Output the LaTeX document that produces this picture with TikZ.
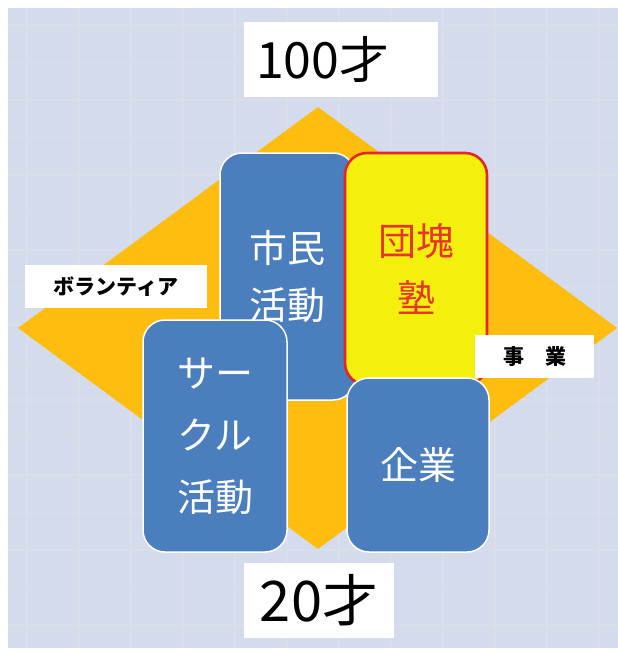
\documentclass[tikz,border=0pt]{standalone}
\usepackage{fontspec}
\setmainfont{Noto Sans CJK JP}
\definecolor{bgblue}{HTML}{D3DBEC}
\definecolor{gridline}{HTML}{D9DEE8}
\definecolor{diamondorange}{HTML}{FFBE0F}
\definecolor{boxblue}{HTML}{4B7EBD}
\definecolor{dankaiyellow}{HTML}{F3F00E}
\definecolor{dankaired}{HTML}{E4262A}
\definecolor{dankaitext}{HTML}{E8352A}

\begin{document}
\begin{tikzpicture}[x=1pt, y=-1pt,
  every box/.style={draw=white, line width=1.5pt, rounded corners=22pt,
    fill=boxblue, text=white, inner sep=0pt, align=center,
    font=\fontsize{38}{57}\selectfont},
  dankai box/.style={every box, draw=dankaired, line width=2.6pt,
    fill=dankaiyellow, text=dankaitext},
  age tag/.style={fill=white, inner sep=0pt, minimum height=75pt},
  side tag/.style={fill=white, inner sep=0pt, minimum height=43pt,
    font=\fontsize{21}{24}\selectfont\bfseries}]
\useasboundingbox (0,0) rectangle (618,653);
\fill[white] (0,0) rectangle (618,653);

% background with grid
\fill[bgblue] (8,8) rectangle (618,648);
\foreach \x in {27,79,...,600}
  \draw[gridline, line width=1.2pt] (\x,8) -- (\x,648);
\foreach \y in {25,62.5,...,640}
  \draw[gridline, line width=1.2pt] (8,\y) -- (618,\y);

% diamond
\fill[diamondorange] (318,107) -- (617,328) -- (318,549) -- (18,328) -- cycle;

% boxes
\node[every box, minimum width=135pt, minimum height=247pt] (shimin) at (287.5,276.5) {市民\\活動};
\node[dankai box, minimum width=142pt, minimum height=232pt] (dankai) at (416,269) {団塊\\塾};
\node[every box, minimum width=144pt, minimum height=232pt,
  font=\fontsize{38}{62}\selectfont] (circle) at (215,436) {サー\\クル\\活動};
\node[every box, minimum width=142pt, minimum height=174pt] (kigyo) at (418,465) {企業};

% labels
\node[age tag, text width=170pt, inner xsep=12pt, align=left,
  font=\fontsize{50}{55}\selectfont] (old) at (341,59.5) {100才};
\node[age tag, minimum width=150pt, font=\fontsize{56}{60}\selectfont] (young) at (319,600.5) {20才};
\node[side tag, minimum width=182pt] (volunteer) at (116,286.5) {ボランティア};
\node[side tag, minimum width=119pt] (business) at (534.5,356.5) {事　業};
\end{tikzpicture}
\end{document}
